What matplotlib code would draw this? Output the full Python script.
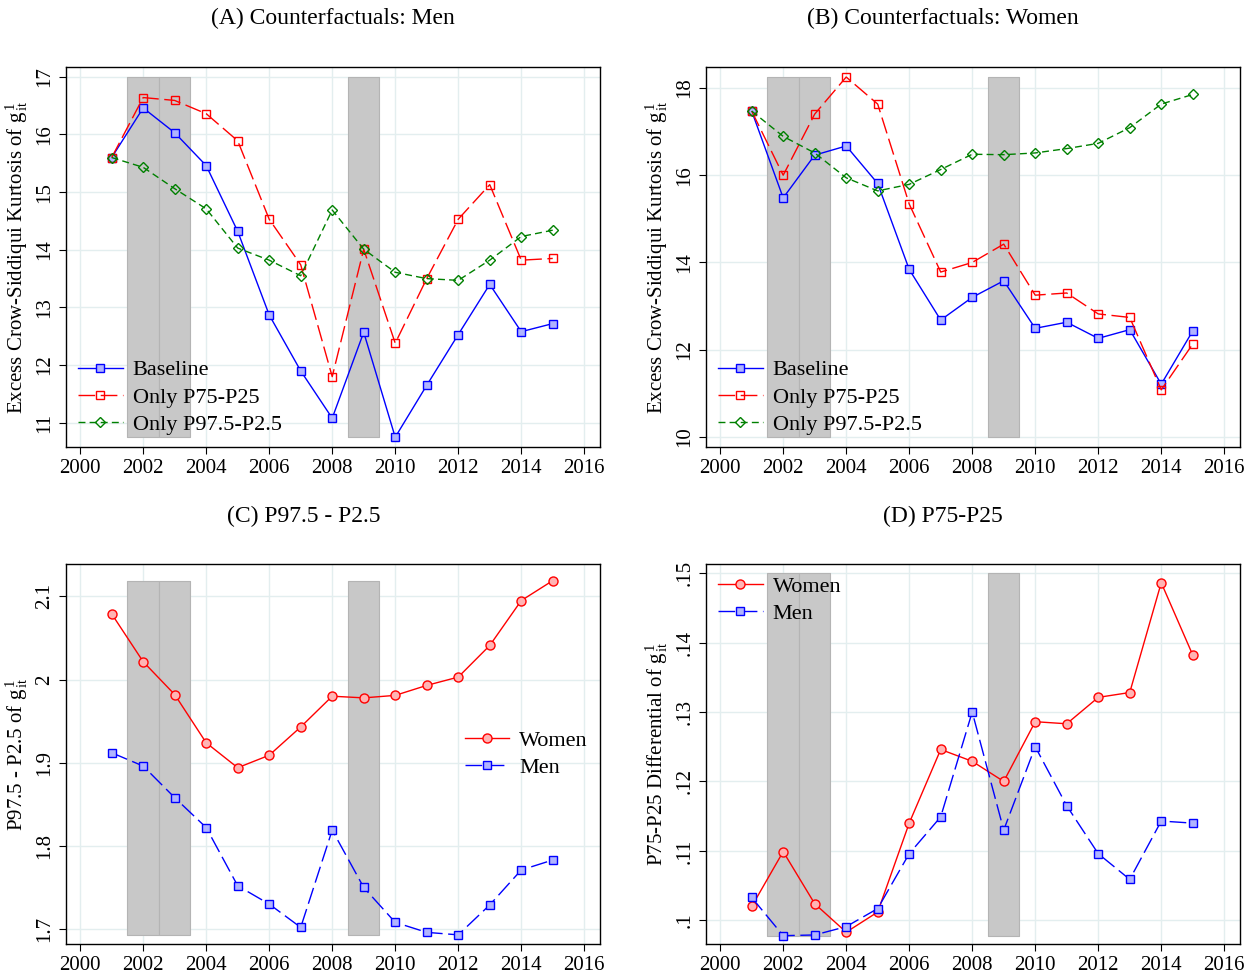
import matplotlib
matplotlib.use("Agg")
from matplotlib import pyplot as plt
import numpy as np

years = np.arange(2001, 2016)

# panel A: counterfactuals, men
men_baseline = [15.60, 16.46, 16.03, 15.46, 14.32, 12.87, 11.90, 11.08, 12.57, 10.75, 11.65, 12.53, 13.40, 12.58, 12.72]
men_only_p75 = [15.60, 16.64, 16.59, 16.36, 15.89, 14.53, 13.74, 11.80, 14.01, 12.38, 13.50, 14.53, 15.13, 13.82, 13.85]
men_only_p97 = [15.60, 15.43, 15.06, 14.71, 14.03, 13.82, 13.55, 14.69, 14.01, 13.61, 13.50, 13.47, 13.82, 14.23, 14.34]

# panel B: counterfactuals, women
women_baseline = [17.47, 15.48, 16.46, 16.67, 15.81, 13.84, 12.68, 13.20, 13.58, 12.49, 12.63, 12.26, 12.46, 11.21, 12.43]
women_only_p75 = [17.47, 16.00, 17.40, 18.25, 17.63, 15.34, 13.78, 14.00, 14.42, 13.25, 13.30, 12.82, 12.74, 11.08, 12.13]
women_only_p97 = [17.47, 16.89, 16.51, 15.94, 15.64, 15.79, 16.13, 16.48, 16.47, 16.51, 16.61, 16.73, 17.09, 17.63, 17.85]

# panel C: P97.5 - P2.5
p97_women = [2.079, 2.0215, 1.982, 1.924, 1.894, 1.909, 1.943, 1.980, 1.978, 1.981, 1.993, 2.003, 2.041, 2.095, 2.119]
p97_men = [1.912, 1.896, 1.858, 1.822, 1.752, 1.730, 1.702, 1.819, 1.750, 1.708, 1.696, 1.693, 1.729, 1.771, 1.783]

# panel D: P75 - P25
p75_women = [.1020, .1099, .1024, .0983, .1012, .1140, .1246, .1229, .1200, .1286, .1283, .1321, .1328, .1486, .1382]
p75_men = [.1033, .0978, .0979, .0991, .1017, .1096, .1149, .1300, .1130, .1250, .1165, .1096, .1059, .1143, .1140]

# recession bands
recessions = [(2001.5, 2002.5), (2002.5, 2003.5), (2008.5, 2009.5)]

plt.rcParams['font.family'] = ['Liberation Serif', 'DejaVu Serif']
plt.rcParams['mathtext.fontset'] = 'stix'

BLUE = '#0000ff'
RED = '#ff0000'
GREEN = '#008000'
LIGHT_BLUE = '#b0b4ff'
LIGHT_RED = '#ffb4b4'
GRID = '#e3eeef'

fig = plt.figure(figsize=(12.58, 9.77), dpi=100)

W = 534 / 1258
H = 380 / 977
ax_a = fig.add_axes([66 / 1258, 1 - 447 / 977, W, H])
ax_b = fig.add_axes([706 / 1258, 1 - 447 / 977, W, H])
ax_c = fig.add_axes([66 / 1258, 1 - 944 / 977, W, H])
ax_d = fig.add_axes([706 / 1258, 1 - 944 / 977, W, H])

gsym = r'$\mathregular{g^{\,1}_{\,it}}$'
leg_kw = dict(frameon=False, fontsize=16, handlelength=2.0, handletextpad=0.45,
              labelspacing=0.3, borderaxespad=0.15)


def style_axis(ax, ylim, yticks, ylabels, band):
    ax.set_xlim(1999.55, 2016.5)
    ax.set_ylim(*ylim)
    ax.set_xticks(np.arange(2000, 2017, 2))
    ax.set_yticks(yticks)
    ax.set_yticklabels(ylabels, rotation=90, va='center')
    ax.tick_params(labelsize=15, direction='out', length=5, width=0.8)
    ax.grid(True, color=GRID, lw=1.0)
    ax.set_axisbelow(True)
    for sp in ax.spines.values():
        sp.set_linewidth(1.0)
    for lo, hi in recessions:
        ax.fill_between([lo, hi], band[0], band[1], color='#c8c8c8',
                        edgecolor='#b4b4b4', lw=0.8, zorder=1)


def counterfactual(ax, base, p75, p97):
    ax.plot(years, base, color=BLUE, lw=1.0, marker='s', ms=6,
            mfc=LIGHT_BLUE, mec=BLUE, mew=1.0, label='Baseline', zorder=3)
    ax.plot(years, p75, color=RED, lw=1.0, ls=(0, (12, 4)), marker='s', ms=6,
            mfc='none', mec=RED, mew=1.0, label='Only P75-P25', zorder=3)
    ax.plot(years, p97, color=GREEN, lw=1.0, ls=(0, (5, 3)), marker='D', ms=5.5,
            mfc='none', mec=GREEN, mew=1.0, label='Only P97.5-P2.5', zorder=3)
    ax.legend(loc='lower left', **leg_kw)
    ax.set_ylabel('Excess Crow-Siddiqui Kurtosis of ' + gsym, fontsize=15,
                  labelpad=4)


def gender(ax, women, men):
    ax.plot(years, women, color=RED, lw=1.0, marker='o', ms=6.5,
            mfc=LIGHT_RED, mec=RED, mew=1.0, label='Women', zorder=3)
    ax.plot(years, men, color=BLUE, lw=1.0, ls=(0, (12, 4)), marker='s', ms=6,
            mfc=LIGHT_BLUE, mec=BLUE, mew=1.0, label='Men', zorder=3)


counterfactual(ax_a, men_baseline, men_only_p75, men_only_p97)
style_axis(ax_a, (10.58, 17.17), [11, 12, 13, 14, 15, 16, 17],
           ['11', '12', '13', '14', '15', '16', '17'], (10.75, 17.0))

counterfactual(ax_b, women_baseline, women_only_p75, women_only_p97)
style_axis(ax_b, (9.77, 18.48), [10, 12, 14, 16, 18],
           ['10', '12', '14', '16', '18'], (10.0, 18.25))

gender(ax_c, p97_women, p97_men)
style_axis(ax_c, (1.682, 2.139), [1.7, 1.8, 1.9, 2.0, 2.1],
           ['1.7', '1.8', '1.9', '2', '2.1'], (1.693, 2.119))
ax_c.legend(loc='center right', bbox_to_anchor=(1.0, 0.5), **leg_kw)
ax_c.set_ylabel('P97.5 - P2.5 of ' + gsym, fontsize=15, labelpad=4)

gender(ax_d, p75_women, p75_men)
style_axis(ax_d, (0.0966, 0.1513), [.10, .11, .12, .13, .14, .15],
           ['.1', '.11', '.12', '.13', '.14', '.15'], (0.0978, 0.15))
ax_d.legend(loc='upper left', **leg_kw)
ax_d.set_ylabel('P75-P25 Differential of ' + gsym, fontsize=15, labelpad=4)

titles = [('(A) Counterfactuals: Men', 333, 18),
          ('(B) Counterfactuals: Women', 943, 18),
          ('(C) P97.5 - P2.5', 304, 516),
          ('(D) P75-P25', 943, 516)]
for txt, x, y in titles:
    fig.text(x / 1258, 1 - y / 977, txt, ha='center', va='center', fontsize=17)

fig.savefig('out.png', dpi=100)
